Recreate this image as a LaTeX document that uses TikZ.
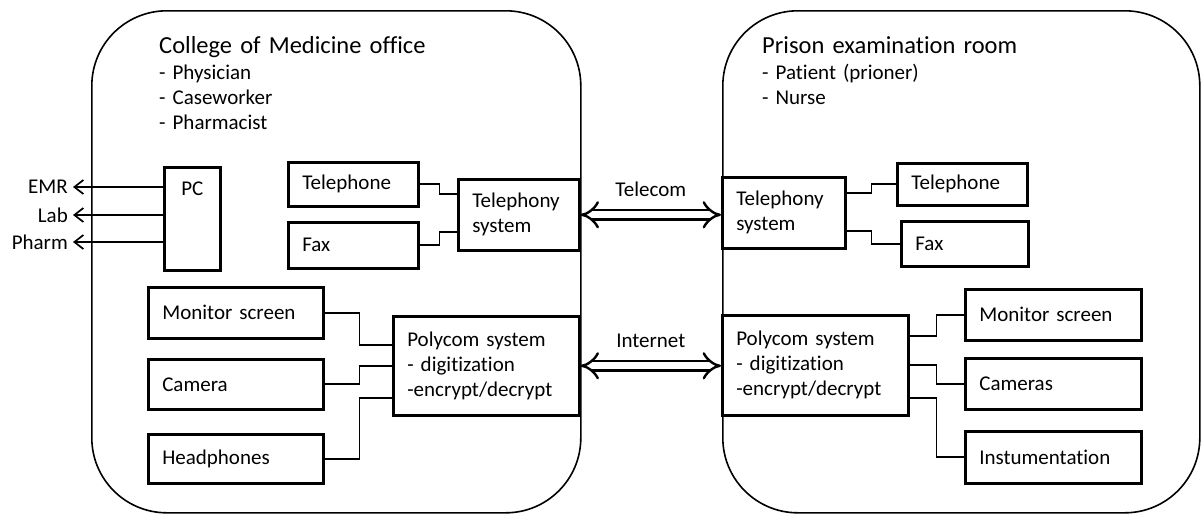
\documentclass[tikz,border=0pt]{standalone}
\usepackage{fontspec}
\setmainfont{Carlito}[Ligatures=NoCommon]
\usetikzlibrary{arrows.meta}

\tikzset{
    room/.style={draw, line width=1.6pt, rounded corners=75pt, anchor=north west},
    caption/.style={inner sep=0pt, anchor=base west, align=left, text width=300pt},
    heading/.style={caption, font=\fontsize{24.5pt}{30pt}\selectfont},
    device/.style={draw, line width=2.6pt, anchor=north west, inner xsep=14pt, align=left},
    tag/.style={anchor=east, inner xsep=5pt, inner ysep=0pt},
    wire/.style={line width=1.7pt},
    feed/.style={line width=1.7pt, -{Straight Barb[length=9pt,width=14pt]}},
    pipe/.style={double, double distance=7pt, line width=2.4pt, {Implies}-{Implies}}
}

\begin{document}
\begin{tikzpicture}[x=1pt, y=-1pt, font=\fontsize{21pt}{25pt}\selectfont]
    \useasboundingbox (0,0) rectangle (1201,514);

    % rooms
    \node[room, minimum width=489pt, minimum height=502pt] (office) at (91,10) {};
    \node[room, minimum width=477pt, minimum height=502pt] (prison) at (722,10) {};
    \node[heading] (officetitle) at (159,53) {College of Medicine office};
    \node[caption] (officestaff) at (159,79) {- Physician\\- Caseworker\\- Pharmacist};
    \node[heading] (prisontitle) at (762,53) {Prison examination room};
    \node[caption] (prisonstaff) at (762,79) {- Patient (prioner)\\- Nurse};

    % office side
    % nodes
    \node[device, minimum width=56pt, minimum height=103pt,
          label={[anchor=north, inner sep=0pt, yshift=-16pt]north:PC}] (pc) at (163,166) {};
    \node[tag] (emr) at (73,187) {EMR};
    \node[tag] (lab) at (73,215) {Lab};
    \node[tag] (pharm) at (73,242) {Pharm};
    \node[device, text width=102pt, minimum height=44pt] (phoneL) at (287,161) {Telephone};
    \node[device, text width=102pt, minimum height=46pt] (faxL) at (287,221) {Fax};
    \node[device, text width=93pt, minimum height=71pt] (sysL) at (457,178) {Telephony\\system};
    \node[device, text width=147pt, minimum height=51pt] (monL) at (147,286) {Monitor screen};
    \node[device, text width=147pt, minimum height=50pt] (camL) at (147,358) {Camera};
    \node[device, text width=147pt, minimum height=49pt] (headL) at (147,433) {Headphones};
    \node[device, text width=158pt, minimum height=99pt] (polyL) at (392,315) {Polycom system\\- digitization\\-encrypt/decrypt};

    % paths
    \draw[feed] (pc.west |- emr.east) -- (emr.east); % PC -> EMR
    \draw[feed] (pc.west |- lab.east) -- (lab.east); % PC -> Lab
    \draw[feed] (pc.west |- pharm.east) -- (pharm.east); % PC -> Pharm
    \draw[wire] (phoneL.east) -- ++(20,0) |- ([yshift=20.5pt]sysL.west); % telephone -> telephony
    \draw[wire] (faxL.east) -- ++(20,0) |- ([yshift=-17.5pt]sysL.west); % fax -> telephony
    \draw[wire] (monL.east) -- ++(35,0) |- ([yshift=20.5pt]polyL.west); % monitor -> polycom
    \draw[wire] (camL.east) -- ++(35,0) |- (polyL.west); % camera -> polycom
    \draw[wire] (headL.east) -- ++(35,0) |- ([yshift=-32.5pt]polyL.west); % headphones -> polycom

    % prison side
    % nodes
    \node[device, text width=95pt, minimum height=71pt] (sysR) at (721,176) {Telephony\\system};
    \node[device, text width=102pt, minimum height=42pt] (phoneR) at (896,162) {Telephone};
    \node[device, text width=99pt, minimum height=45pt] (faxR) at (900,220) {Fax};
    \node[device, text width=158pt, minimum height=100pt] (polyR) at (721,314) {Polycom system\\- digitization\\-encrypt/decrypt};
    \node[device, text width=148pt, minimum height=51pt] (monR) at (964,288) {Monitor screen};
    \node[device, text width=148pt, minimum height=51pt] (camR) at (964,357) {Cameras};
    \node[device, text width=148pt, minimum height=52pt] (instR) at (964,430) {Instumentation};

    % paths
    \draw[wire] ([yshift=19.5pt]sysR.east) -- ++(25,0) |- (phoneR.west); % telephony -> telephone
    \draw[wire] ([yshift=-18.5pt]sysR.east) -- ++(25,0) |- (faxR.west); % telephony -> fax
    \draw[wire] ([yshift=29pt]polyR.east) -- ++(27,0) |- (monR.west); % polycom -> monitor
    \draw[wire] (polyR.east) -- ++(27,0) |- (camR.west); % polycom -> cameras
    \draw[wire] ([yshift=-33pt]polyR.east) -- ++(27,0) |- (instR.west); % polycom -> instumentation

    % links between rooms
    \draw[pipe] (sysL.east) -- node[above=14pt] (telecom) {Telecom} (sysL.east -| sysR.west);
    \draw[pipe] (polyL.east) -- node[above=14pt] (internet) {Internet} (polyL.east -| polyR.west);

\end{tikzpicture}
\end{document}
